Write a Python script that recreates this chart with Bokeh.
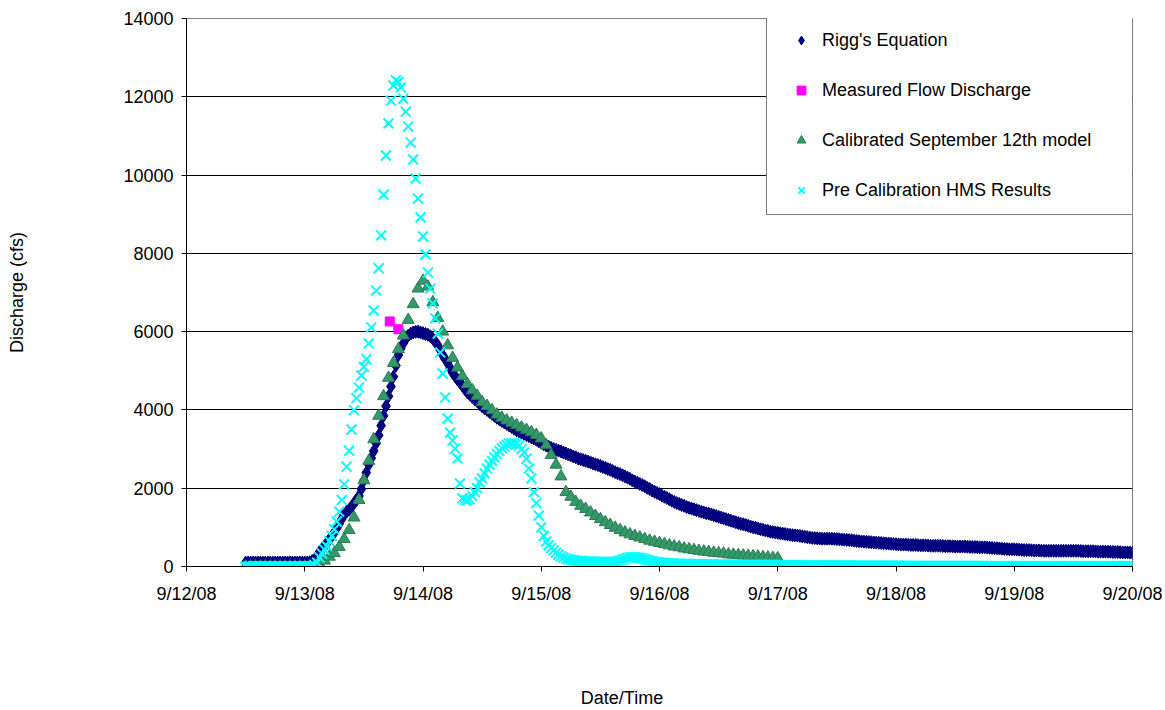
from datetime import datetime
import pandas as pd
from bokeh.plotting import figure
from bokeh.models import (Range1d, FixedTicker, CustomJSTickFormatter, Legend,
                          LegendItem)
from bokeh.embed import file_html
from bokeh.resources import INLINE

# ---------------- data ----------------
# Rigg's Equation, every 30 min from 9/12/08 12:00 to 9/20/08 00:00 (cfs)
riggs_start = "2008-09-12 12:00"
riggs_step = "30min"
riggs = [
    100, 100, 100, 100, 100, 100, 100, 100, 100, 100,
    100, 100, 100, 100, 100, 100, 100, 100, 100, 100,
    100, 100, 100, 100, 100, 100, 110, 140, 180, 270,
    370, 450, 520, 600, 690, 780, 870, 980, 1090, 1210,
    1330, 1400, 1450, 1530, 1620, 1700, 1800, 1980, 2200, 2400,
    2600, 2770, 2950, 3150, 3350, 3600, 3850, 4100, 4350, 4600,
    4850, 5130, 5400, 5570, 5700, 5810, 5900, 5950, 5980, 5995,
    6000, 5980, 5960, 5940, 5920, 5880, 5820, 5740, 5650, 5530,
    5400, 5300, 5200, 5070, 4950, 4860, 4780, 4700, 4620, 4530,
    4450, 4390, 4330, 4270, 4220, 4150, 4090, 4040, 4000, 3950,
    3900, 3850, 3800, 3760, 3720, 3680, 3640, 3600, 3560, 3520,
    3480, 3450, 3420, 3390, 3360, 3330, 3300, 3270, 3240, 3200,
    3160, 3120, 3090, 3060, 3030, 3000, 2980, 2960, 2940, 2910,
    2890, 2860, 2840, 2810, 2790, 2760, 2740, 2720, 2700, 2680,
    2660, 2630, 2610, 2590, 2570, 2540, 2520, 2490, 2470, 2440,
    2410, 2380, 2360, 2330, 2300, 2270, 2240, 2200, 2170, 2140,
    2110, 2080, 2050, 2010, 1980, 1940, 1910, 1880, 1850, 1810,
    1780, 1750, 1720, 1680, 1650, 1620, 1600, 1570, 1550, 1520,
    1500, 1480, 1460, 1440, 1420, 1400, 1380, 1360, 1350, 1330,
    1310, 1290, 1270, 1250, 1230, 1210, 1190, 1170, 1150, 1130,
    1110, 1090, 1080, 1060, 1040, 1020, 1000, 990, 970, 950,
    940, 920, 910, 890, 880, 870, 860, 850, 840, 830,
    820, 810, 800, 795, 790, 780, 770, 760, 750, 740,
    730, 725, 720, 715, 710, 710, 710, 710, 710, 705,
    700, 695, 690, 685, 680, 675, 670, 660, 650, 645,
    640, 635, 630, 625, 620, 615, 610, 605, 600, 595,
    590, 585, 580, 575, 570, 565, 560, 560, 560, 555,
    550, 550, 550, 545, 540, 540, 540, 535, 530, 530,
    530, 530, 530, 525, 520, 520, 520, 515, 510, 510,
    510, 510, 510, 505, 500, 500, 500, 495, 490, 490,
    490, 485, 480, 475, 470, 465, 460, 455, 450, 445,
    440, 440, 440, 435, 430, 425, 420, 420, 420, 415,
    410, 410, 410, 405, 400, 400, 400, 400, 400, 400,
    400, 400, 400, 400, 400, 400, 400, 400, 400, 395,
    390, 390, 390, 390, 390, 385, 380, 380, 380, 380,
    380, 375, 370, 370, 370, 365, 360, 360, 360, 355,
    350,
]

# Measured Flow Discharge
measured_times = ["2008-09-13 17:15", "2008-09-13 19:00"]
measured = [6260, 6060]

# Calibrated September 12th model, hourly from 9/12/08 12:00 to 9/17/08 00:00
calib_start = "2008-09-12 12:00"
calib_step = "1h"
calibrated = [
    0, 0, 0, 0, 0, 0, 0, 0, 0, 0,
    0, 0, 0, 10, 30, 70, 150, 250, 340, 500,
    700, 930, 1250, 1700, 2200, 2700, 3250, 3850, 4350, 4820,
    5200, 5550, 5900, 6300, 6700, 7100, 7300, 7150, 6750, 6350,
    6000, 5650, 5330, 5080, 4860, 4660, 4500, 4360, 4200, 4100,
    3990, 3880, 3800, 3730, 3670, 3610, 3550, 3490, 3430, 3360,
    3270, 3100, 2850, 2600, 2300, 1900, 1780, 1650, 1550, 1470,
    1380, 1290, 1210, 1130, 1060, 990, 930, 870, 820, 780,
    740, 700, 660, 630, 600, 570, 540, 510, 490, 460,
    440, 420, 400, 380, 370, 350, 340, 330, 310, 300,
    290, 280, 270, 260, 250, 240, 230, 220, 210,
]

# Pre Calibration HMS Results, every 30 min from 9/12/08 12:00 to 9/20/08 00:00
hms_start = "2008-09-12 12:00"
hms_step = "30min"
hms = [
    0, 0, 0, 0, 0, 0, 0, 0, 0, 0,
    0, 0, 0, 0, 0, 0, 0, 0, 0, 0,
    0, 0, 0, 0, 0, 0, 0, 0, 30, 100,
    230, 330, 430, 520, 650, 780, 950, 1150, 1400, 1700,
    2100, 2550, 2960, 3500, 3990, 4300, 4570, 4880, 5100, 5300,
    5700, 6110, 6540, 7050, 7620, 8460, 9500, 10500, 11320, 11900,
    12290, 12420, 12380, 12240, 11950, 11620, 11240, 10830, 10400, 9910,
    9400, 8920, 8430, 7970, 7510, 7100, 6720, 6340, 5950, 5470,
    4930, 4320, 3780, 3420, 3220, 3010, 2760, 2120, 1740, 1700,
    1690, 1720, 1800, 1900, 2000, 2150, 2250, 2380, 2500, 2600,
    2700, 2790, 2870, 2950, 3020, 3070, 3110, 3140, 3150, 3150,
    3130, 3090, 3000, 2910, 2750, 2500, 2250, 1900, 1620, 1300,
    1000, 780, 640, 540, 470, 410, 350, 300, 260, 230,
    200, 185, 170, 160, 150, 145, 140, 135, 130, 130,
    125, 125, 120, 120, 120, 115, 115, 115, 115, 115,
    120, 130, 150, 175, 200, 220, 235, 240, 240, 230,
    220, 205, 190, 170, 150, 135, 120, 110, 100, 95,
    90, 85, 80, 78, 75, 72, 70, 68, 66, 64,
    62, 60, 59, 58, 57, 56, 55, 54, 53, 52,
    51, 50, 50, 49, 48, 48, 47, 46, 46, 45,
    45, 44, 44, 43, 43, 42, 42, 41, 41, 40,
    40, 39, 39, 38, 38, 37, 37, 36, 36, 35,
    35, 34, 34, 33, 33, 32, 32, 31, 31, 30,
    30, 30, 29, 29, 29, 28, 28, 28, 27, 27,
    27, 26, 26, 26, 25, 25, 25, 24, 24, 24,
    23, 23, 23, 22, 22, 22, 21, 21, 21, 20,
    20, 20, 20, 19, 19, 19, 19, 18, 18, 18,
    18, 17, 17, 17, 17, 16, 16, 16, 16, 15,
    15, 15, 15, 15, 14, 14, 14, 14, 14, 13,
    13, 13, 13, 13, 12, 12, 12, 12, 12, 12,
    11, 11, 11, 11, 11, 11, 10, 10, 10, 10,
    10, 10, 10, 10, 10, 10, 10, 10, 10, 10,
    10, 10, 10, 10, 10, 10, 10, 10, 10, 10,
    10, 10, 10, 10, 10, 10, 10, 10, 10, 10,
    10, 10, 10, 10, 10, 10, 10, 10, 10, 10,
    10, 10, 10, 10, 10, 10, 10, 10, 10, 10,
    10,
]

x_tick_dates = ["2008-09-12", "2008-09-13", "2008-09-14", "2008-09-15",
                "2008-09-16", "2008-09-17", "2008-09-18", "2008-09-19",
                "2008-09-20"]
y_ticks = [0, 2000, 4000, 6000, 8000, 10000, 12000, 14000]

series_names = ["Rigg's Equation", "Measured Flow Discharge",
                "Calibrated September 12th model", "Pre Calibration HMS Results"]
x_title = "Date/Time"
y_title = "Discharge (cfs)"

# ---------------- figure ----------------
FONT = "Liberation Sans"
NAVY, MAGENTA, GREEN, GREEN_EDGE, CYAN = "#000080", "#FF00FF", "#339966", "#2B7A58", "#00FFFF"

riggs_t = pd.date_range(riggs_start, periods=len(riggs), freq=riggs_step)
calib_t = pd.date_range(calib_start, periods=len(calibrated), freq=calib_step)
hms_t = pd.date_range(hms_start, periods=len(hms), freq=hms_step)
meas_t = pd.to_datetime(measured_times)

p = figure(width=1165, height=710, x_axis_type="datetime",
           x_range=Range1d(datetime(2008, 9, 12), datetime(2008, 9, 20)),
           y_range=Range1d(0, 14000),
           output_backend="svg", toolbar_location=None,
           min_border_left=186, min_border_right=33,
           min_border_top=18, min_border_bottom=144)
p.background_fill_color = "white"
p.border_fill_color = "white"
p.outline_line_color = "#808080"
p.outline_line_width = 1

r1 = p.scatter(riggs_t, riggs, marker="diamond", size=13,
               fill_color=NAVY, line_color=NAVY)
r2 = p.scatter(meas_t, measured, marker="square", size=9,
               fill_color=MAGENTA, line_color=MAGENTA)
r3 = p.scatter(calib_t, calibrated, marker="triangle", size=12,
               fill_color=GREEN, line_color=GREEN_EDGE, line_width=1)
r4 = p.scatter(hms_t, hms, marker="x", size=14,
               line_color=CYAN, line_width=2)

tick_ms = [int(pd.Timestamp(d).value // 10**6) for d in x_tick_dates]
p.xaxis.ticker = FixedTicker(ticks=tick_ms)
p.xaxis.formatter = CustomJSTickFormatter(code="""
    const d = new Date(tick);
    return (d.getUTCMonth() + 1) + "/" + d.getUTCDate() + "/" + String(d.getUTCFullYear()).slice(2);
""")
p.yaxis.ticker = FixedTicker(ticks=y_ticks)

for ax in (p.xaxis[0], p.yaxis[0]):
    ax.axis_line_color = "black"
    ax.axis_line_width = 1
    ax.major_tick_line_color = "black"
    ax.major_tick_in = 0
    ax.major_tick_out = 5
    ax.minor_tick_line_color = None
    ax.major_label_text_font = FONT
    ax.major_label_text_font_size = "18px"
    ax.major_label_text_color = "black"
    ax.axis_label_text_font = FONT
    ax.axis_label_text_font_size = "18px"
    ax.axis_label_text_font_style = "normal"
    ax.axis_label_text_color = "black"

p.xaxis.major_label_standoff = 12
p.yaxis.major_label_standoff = 8

p.yaxis.axis_label = y_title
p.yaxis.axis_label_standoff = 93

# the original's x title sits left of the frame centre; pad it with no-break spaces
p.xaxis.axis_label = x_title + "\u00a0" * 15
p.xaxis.axis_label_standoff = 81

p.xgrid.grid_line_color = None
p.ygrid.grid_line_color = "black"
p.ygrid.grid_line_width = 1

legend = Legend(items=[LegendItem(label=series_names[0], renderers=[r1]),
                       LegendItem(label=series_names[1], renderers=[r2]),
                       LegendItem(label=series_names[2], renderers=[r3]),
                       LegendItem(label=series_names[3], renderers=[r4])],
                location=(580, 351), orientation="vertical",
                padding=13, spacing=28, margin=0,
                glyph_width=42, glyph_height=22, label_height=22,
                label_width=298, label_standoff=0,
                border_line_color="black", border_line_width=1,
                background_fill_color="white", background_fill_alpha=1.0,
                label_text_font=FONT, label_text_font_size="18px",
                label_text_color="black")
p.add_layout(legend)

open("out.html", "w").write(file_html(p, INLINE))
